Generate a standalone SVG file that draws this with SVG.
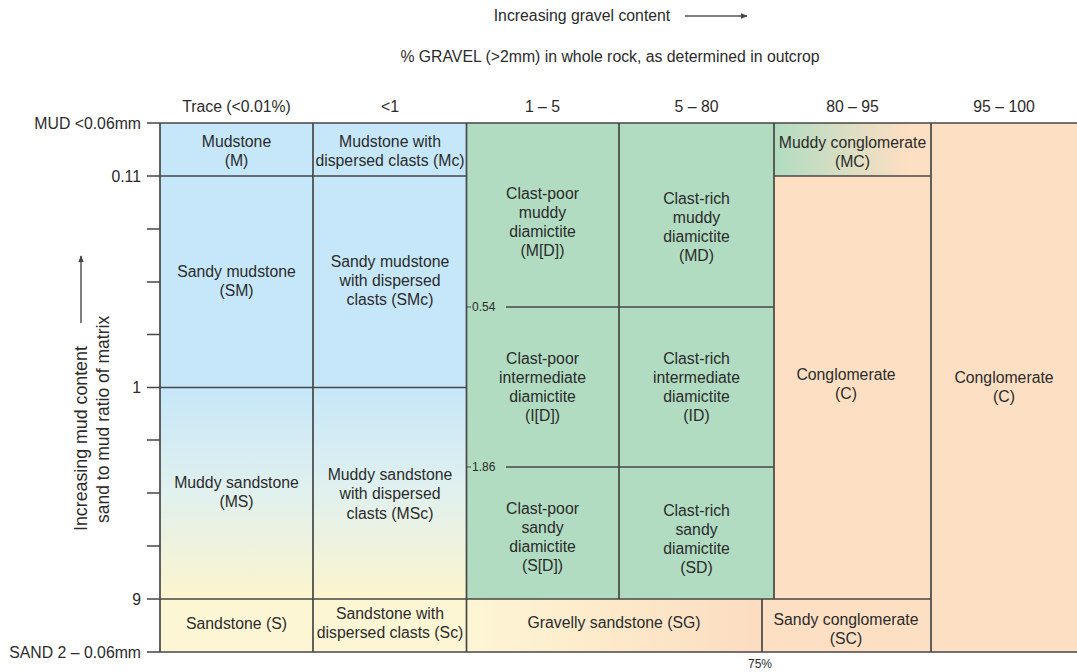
<svg xmlns="http://www.w3.org/2000/svg" width="1077" height="672" viewBox="0 0 1077 672">
<style>
text{font-family:"Liberation Sans",Arial,sans-serif;font-size:15.8px;fill:#2b2b2b;text-anchor:middle}
.ax{text-anchor:end}
.sm{font-size:12px;text-anchor:start}
.g{stroke:#474747;stroke-width:1.7;fill:none}
.blue{fill:#c6e7f9}.green{fill:#b1dcc1}.peach{fill:#fddfc3}.yel{fill:#fdf6d4}
.conn{stroke:#555;stroke-width:1.5;fill:none}
</style>
<defs>
<linearGradient id="gMS" x1="0" y1="0" x2="0" y2="1"><stop offset="0" stop-color="#c6e7f9"/><stop offset="0.5" stop-color="#e1f1ee"/><stop offset="1" stop-color="#fcf4cd"/></linearGradient>
<linearGradient id="gSG" x1="0" y1="0" x2="1" y2="0"><stop offset="0" stop-color="#fdf6d4"/><stop offset="1" stop-color="#fcdcc0"/></linearGradient>
<linearGradient id="gMC" x1="0" y1="0" x2="1" y2="0"><stop offset="0" stop-color="#b1dcc1"/><stop offset="0.85" stop-color="#fddfc3"/><stop offset="1" stop-color="#fddfc3"/></linearGradient>
<marker id="ah" viewBox="0 0 10 10" refX="9" refY="5" markerWidth="7" markerHeight="7" orient="auto" markerUnits="userSpaceOnUse"><path d="M0,1 L10,5 L0,9 z" fill="#444"/></marker>
</defs>
<rect width="1077" height="672" fill="#fff"/>

<g id="titles">
<text x="582" y="21">Increasing gravel content</text>
<text x="610" y="62">% GRAVEL (&gt;2mm) in whole rock, as determined in outcrop</text>
</g>
<g id="col-headers">
<text x="236.5" y="112">Trace (&lt;0.01%)</text>
<text x="390" y="112">&lt;1</text>
<text x="542.5" y="112">1 – 5</text>
<text x="696.5" y="112">5 – 80</text>
<text x="852.5" y="112">80 – 95</text>
<text x="1004" y="112">95 – 100</text>
</g>
<g id="row-axis">
<text class="ax" x="141" y="129">MUD &lt;0.06mm</text>
<text class="ax" x="141" y="182">0.11</text>
<text class="ax" x="141" y="393">1</text>
<text class="ax" x="141" y="605">9</text>
<text class="ax" x="141" y="658">SAND 2 – 0.06mm</text>
<text transform="translate(87,531) rotate(-90)" style="text-anchor:start;font-size:17.8px">Increasing mud content</text>
<text transform="translate(109,523) rotate(-90)" style="text-anchor:start;font-size:17.5px">sand to mud ratio of matrix</text>
</g>

<g id="M"><rect class="blue" x="160" y="123" width="153" height="53"/><text x="236.5" y="146.7">Mudstone</text><text x="236.5" y="165.7">(M)</text></g>
<g id="Mc"><rect class="blue" x="313" y="123" width="153.5" height="53"/><text x="390" y="146.7">Mudstone with</text><text x="390" y="165.7">dispersed clasts (Mc)</text></g>
<g id="SM"><rect class="blue" x="160" y="176" width="153" height="211.5"/><text x="236.5" y="277">Sandy mudstone</text><text x="236.5" y="296">(SM)</text></g>
<g id="SMc"><rect class="blue" x="313" y="176" width="153.5" height="211.5"/><text x="390" y="267">Sandy mudstone</text><text x="390" y="286">with dispersed</text><text x="390" y="305">clasts (SMc)</text></g>
<g id="MS"><rect fill="url(#gMS)" x="160" y="387.5" width="153" height="211.5"/><text x="236.5" y="487.5">Muddy sandstone</text><text x="236.5" y="507">(MS)</text></g>
<g id="MSc"><rect fill="url(#gMS)" x="313" y="387.5" width="153.5" height="211.5"/><text x="390" y="480">Muddy sandstone</text><text x="390" y="499">with dispersed</text><text x="390" y="518.5">clasts (MSc)</text></g>
<g id="S"><rect class="yel" x="160" y="599" width="153" height="53"/><text x="236.5" y="628.7">Sandstone (S)</text></g>
<g id="Sc"><rect class="yel" x="313" y="599" width="153.5" height="53"/><text x="390" y="618.5">Sandstone with</text><text x="390" y="638">dispersed clasts (Sc)</text></g>

<g id="MD-poor"><rect class="green" x="466.5" y="123" width="152.5" height="184"/><text x="542.5" y="198.5">Clast-poor</text><text x="542.5" y="217.5">muddy</text><text x="542.5" y="236.5">diamictite</text><text x="542.5" y="255.5">(M[D])</text></g>
<g id="MD"><rect class="green" x="619" y="123" width="155" height="184"/><text x="696.5" y="204">Clast-rich</text><text x="696.5" y="223">muddy</text><text x="696.5" y="242">diamictite</text><text x="696.5" y="261">(MD)</text></g>
<g id="ID-poor"><rect class="green" x="466.5" y="307" width="152.5" height="160"/><text x="542.5" y="363.5">Clast-poor</text><text x="542.5" y="382.5">intermediate</text><text x="542.5" y="401.5">diamictite</text><text x="542.5" y="420.5">(I[D])</text></g>
<g id="ID"><rect class="green" x="619" y="307" width="155" height="160"/><text x="696.5" y="363.5">Clast-rich</text><text x="696.5" y="382.5">intermediate</text><text x="696.5" y="401.5">diamictite</text><text x="696.5" y="420.5">(ID)</text></g>
<g id="SD-poor"><rect class="green" x="466.5" y="467" width="152.5" height="132"/><text x="542.5" y="514">Clast-poor</text><text x="542.5" y="533">sandy</text><text x="542.5" y="552">diamictite</text><text x="542.5" y="571">(S[D])</text></g>
<g id="SD"><rect class="green" x="619" y="467" width="155" height="132"/><text x="696.5" y="516">Clast-rich</text><text x="696.5" y="535">sandy</text><text x="696.5" y="554">diamictite</text><text x="696.5" y="573">(SD)</text></g>
<g id="SG"><rect fill="url(#gSG)" x="466.5" y="599" width="295.5" height="53"/><text x="614" y="628.4">Gravelly sandstone (SG)</text></g>

<g id="MC"><rect fill="url(#gMC)" x="774" y="123" width="157" height="53"/><text x="852.5" y="148.4">Muddy conglomerate</text><text x="852.5" y="167.4">(MC)</text></g>
<g id="C1"><rect class="peach" x="774" y="176" width="157" height="423"/><text x="846" y="379.7">Conglomerate</text><text x="846" y="399">(C)</text></g>
<g id="SC"><rect class="peach" x="762" y="599" width="169" height="53"/><text x="846" y="625">Sandy conglomerate</text><text x="846" y="644">(SC)</text></g>
<g id="C2"><rect class="peach" x="931" y="123" width="146" height="529"/><text x="1004" y="383">Conglomerate</text><text x="1004" y="402.4">(C)</text></g>

<g id="grid">
<path class="g" d="M147,123H1077 M147,652H1077 M160,123V652 M313,123V652 M466.5,123V652 M619,123V599 M774,123V599 M762,599V652 M931,123V652 M160,176H466.5 M774,176H931 M160,387.5H466.5 M160,599H931 M506,307H774 M506,467H774"/>
<path class="g" d="M147,176H160 M147,229H160 M147,282H160 M147,334.5H160 M147,387.5H160 M147,440H160 M147,493H160 M147,546H160 M147,599H160"/>
<path class="g" style="stroke-width:1.2" d="M466.5,307H471 M466.5,467H471"/>
<text class="sm" x="472" y="311">0.54</text>
<text class="sm" x="472" y="471">1.86</text>
<text x="760" y="668" style="font-size:12px">75%</text>
</g>

<g id="connectors">
<path class="conn" d="M685,16H747" marker-end="url(#ah)"/>
<path class="conn" d="M81,323V256" marker-end="url(#ah)"/>
</g>
</svg>
